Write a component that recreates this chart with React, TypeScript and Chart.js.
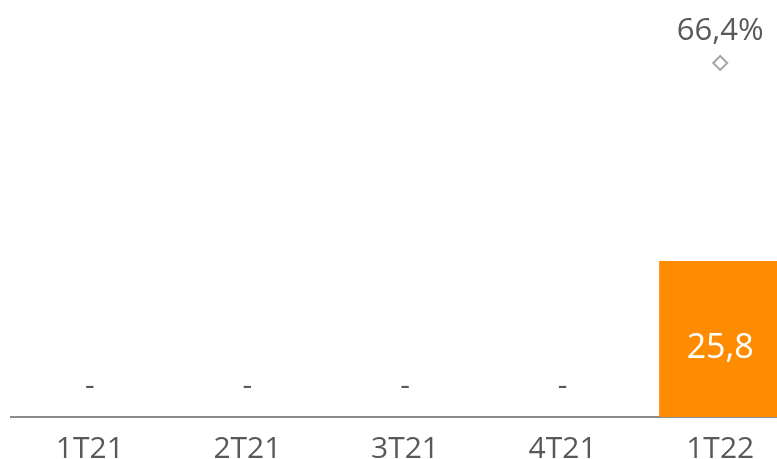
import React, { useEffect, useRef } from "react";
import { Chart, registerables } from "chart.js";

Chart.register(...registerables);

const categories = ["1T21", "2T21", "3T21", "4T21", "1T22"];
const barValues = [0, 0, 0, 0, 25.8];
const pctValues: (number | null)[] = [null, null, null, null, 66.4];

const TEXT = "#595959";
const ORANGE = "#FF8C00";
const FONT = "'Open Sans', 'Noto Sans', sans-serif";

const fmt = (v: number, d = 1) => v.toFixed(d).replace(".", ",");

const labelPlugin = {
  id: "customLabels",
  afterDatasetsDraw(chart: any) {
    const ctx = chart.ctx;
    ctx.save();
    ctx.textAlign = "center";
    ctx.textBaseline = "alphabetic";
    const xScale = chart.scales.x;
    const bottom = chart.chartArea.bottom;
    ctx.font = `30px ${FONT}`;
    ctx.fillStyle = TEXT;
    categories.forEach((c, i) => {
      ctx.fillText(c, xScale.getPixelForValue(i), bottom + 41);
    });
    const barMeta = chart.getDatasetMeta(0);
    barMeta.data.forEach((el: any, i: number) => {
      const v = barValues[i];
      if (!v) {
        ctx.font = `30px ${FONT}`;
        ctx.fillStyle = TEXT;
        ctx.fillText("-", el.x, el.base - 22);
      } else {
        ctx.font = `34px ${FONT}`;
        ctx.fillStyle = "#ffffff";
        ctx.fillText(fmt(v), el.x, el.base - 59);
      }
    });
    const lineMeta = chart.getDatasetMeta(1);
    lineMeta.data.forEach((el: any, i: number) => {
      const v = pctValues[i];
      if (v == null) return;
      ctx.font = `31px ${FONT}`;
      ctx.fillStyle = TEXT;
      ctx.fillText(fmt(v) + "%", el.x, el.y - 23);
    });
    ctx.restore();
  },
};

export default function App() {
  const ref = useRef<HTMLCanvasElement>(null);
  useEffect(() => {
    if (!ref.current) return;
    const chart = new Chart(ref.current, {
      type: "bar",
      data: {
        labels: categories,
        datasets: [
          {
            type: "bar",
            data: barValues,
            backgroundColor: ORANGE,
            categoryPercentage: 1,
            barPercentage: 0.775,
            yAxisID: "y",
            order: 2,
          },
          {
            type: "line",
            data: pctValues,
            showLine: false,
            pointStyle: "rectRot",
            pointRadius: 7,
            borderColor: "#a6a6a6",
            backgroundColor: "#ffffff",
            borderWidth: 2,
            yAxisID: "y1",
            order: 1,
            clip: false,
          } as any,
        ],
      },
      options: {
        responsive: false,
        animation: false,
        layout: { autoPadding: false, padding: { left: 11, right: 1, top: 0, bottom: 42 } } as any,
        plugins: { legend: { display: false }, tooltip: { enabled: false } },
        scales: {
          x: {
            grid: { display: false },
            border: { display: true, color: "#8c8c8c", width: 2 },
            ticks: { display: false },
          },
          y: { display: false, min: 0, max: 69 },
          y1: { display: false, min: 0, max: 78.2 },
        },
      },
      plugins: [labelPlugin],
    });
    return () => chart.destroy();
  }, []);
  return (
    <div style={{ position: "fixed", left: 0, top: 0, width: 777, height: 459, overflow: "hidden", background: "#fff" }}>
      <canvas ref={ref} width={800} height={467} style={{ display: "block" }} />
    </div>
  );
}
